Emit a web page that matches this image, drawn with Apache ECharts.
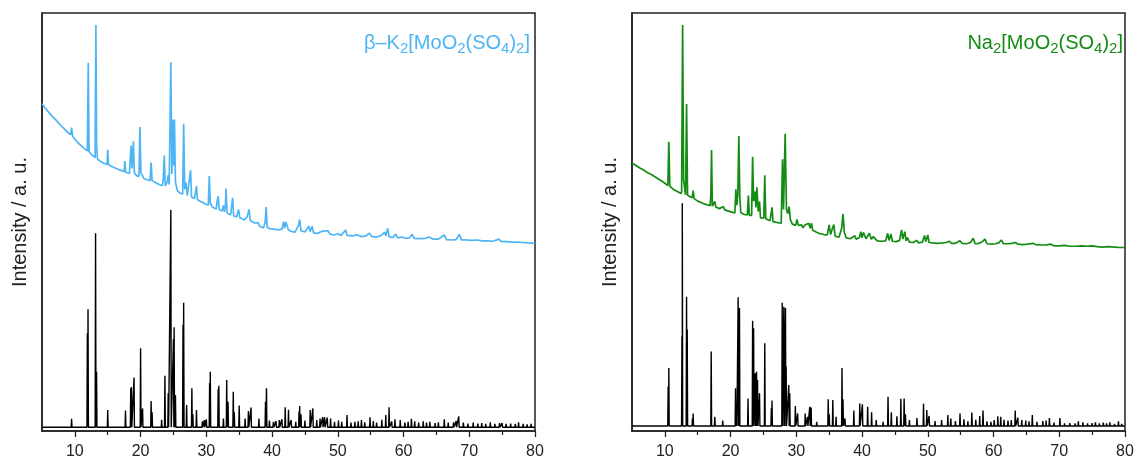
<!DOCTYPE html>
<html><head><meta charset="utf-8">
<script src="https://cdn.jsdelivr.net/npm/echarts@6/dist/echarts.min.js"></script>
<style>html,body{margin:0;padding:0;background:#fff}#c{width:1137px;height:463px}</style>
</head><body><div id="c"></div>
<script>
// ---- tick labels ----
const xMajorTicks = [10, 20, 30, 40, 50, 60, 70, 80];
const xMinorTicks = [15, 25, 35, 45, 55, 65, 75];
const yName = 'Intensity / a. u.';

// ---- beta-K2[MoO2(SO4)2] measured pattern [2theta, intensity] ----
const kExp = [[5.0,78.3],[5.5,77.2],[6.0,76.3],[6.5,75.4],[7.0,74.6],[7.5,73.7],[8.0,72.9],[8.5,72.1],[9.0,71.3],[9.35,70.9],[9.5,72.6],[9.65,70.6],[10.0,69.8],[10.5,68.9],[11.0,68.2],[11.5,67.5],[11.9,67.0],[12.04,88.1],[12.16,66.8],[12.5,66.2],[13.08,65.4],[13.2,97.1],[13.3,68.5],[13.45,65.0],[13.9,64.5],[14.5,64.0],[14.9,63.8],[15.0,67.3],[15.12,63.7],[15.7,63.2],[16.3,62.8],[16.9,62.4],[17.5,62.1],[17.6,64.6],[17.72,61.9],[18.3,61.6],[18.55,68.3],[18.7,62.8],[18.9,69.3],[19.05,61.8],[19.4,61.1],[19.75,60.9],[19.9,72.7],[20.05,61.8],[20.25,61.2],[20.5,60.4],[21.0,60.1],[21.45,59.9],[21.6,64.2],[21.75,59.9],[22.3,59.4],[22.9,58.9],[23.3,58.7],[23.45,60.3],[23.6,65.9],[23.75,58.6],[24.05,59.6],[24.2,61.2],[24.35,59.0],[24.6,88.2],[24.75,61.5],[24.95,74.5],[25.05,63.5],[25.15,74.5],[25.3,59.5],[25.6,57.5],[26.0,56.9],[26.4,56.7],[26.55,73.5],[26.7,57.8],[26.9,59.4],[27.1,56.3],[27.4,56.1],[27.6,62.4],[27.75,56.0],[28.2,55.6],[28.5,58.6],[28.65,55.3],[29.3,54.8],[29.9,54.3],[30.3,54.0],[30.45,61.0],[30.6,54.5],[30.9,53.6],[31.5,53.1],[31.65,55.0],[31.8,56.2],[31.95,53.0],[32.4,52.6],[32.6,54.0],[32.75,52.4],[32.9,53.8],[33.0,58.0],[33.15,52.2],[33.7,51.7],[34.0,55.8],[34.15,51.5],[34.6,51.2],[34.9,53.0],[35.1,51.0],[35.8,50.5],[36.2,51.2],[36.5,53.0],[36.7,50.3],[37.3,49.8],[37.9,49.8],[38.1,49.0],[38.7,48.6],[38.95,50.0],[39.1,53.6],[39.25,48.8],[39.6,48.4],[40.3,48.3],[40.9,48.1],[41.5,48.3],[41.75,50.1],[41.9,48.5],[42.1,50.0],[42.3,50.4],[42.5,48.1],[43.0,47.7],[43.5,47.6],[44.05,49.3],[44.2,50.6],[44.4,47.9],[45.0,47.6],[45.6,49.0],[45.8,47.7],[46.1,49.0],[46.3,47.4],[47.0,47.3],[47.5,47.7],[47.9,47.9],[48.2,47.6],[48.5,47.9],[48.8,47.1],[49.4,46.9],[50.0,47.2],[50.5,46.8],[51.2,48.1],[51.4,46.8],[52.2,46.7],[53.0,46.9],[53.6,46.5],[54.2,46.6],[54.8,47.3],[55.2,46.5],[56.0,46.4],[56.7,46.9],[57.1,47.6],[57.3,46.7],[57.6,48.5],[57.8,46.5],[58.4,46.3],[58.8,47.1],[59.1,46.2],[59.7,46.4],[60.3,46.1],[60.9,46.2],[61.3,47.1],[61.6,46.1],[62.5,46.0],[63.3,46.1],[63.9,46.4],[64.5,45.9],[65.3,45.9],[66.2,46.9],[66.5,45.8],[67.3,45.7],[68.0,45.8],[68.5,47.0],[68.8,45.7],[69.5,45.7],[70.4,45.6],[71.2,45.7],[72.0,45.5],[72.8,45.5],[73.6,45.4],[74.5,45.9],[74.9,45.3],[75.7,45.3],[76.5,45.2],[77.3,45.2],[78.1,45.1],[78.9,45.0],[80.0,44.9]];

// ---- beta-K2[MoO2(SO4)2] calculated reflections [2theta, top] ----
const kRef = [[9.5,2.9],[11.9,23.4],[12.0,29.1],[13.15,47.3],[13.3,14.2],[15.0,5.0],[17.7,4.9],[18.5,10.2],[18.6,10.5],[19.0,12.8],[20.0,19.8],[20.3,5.4],[21.6,7.2],[21.75,4.5],[23.2,2.7],[23.7,13.2],[24.2,9.0],[24.6,52.9],[25.0,22.0],[25.1,24.8],[25.3,8.6],[26.45,25.4],[26.55,30.7],[27.0,6.2],[27.8,10.2],[27.95,4.0],[28.5,5.0],[29.4,2.3],[29.7,2.6],[30.0,2.8],[30.5,11.5],[30.6,14.2],[31.8,10.0],[31.9,10.8],[32.6,3.0],[33.1,12.2],[33.3,7.0],[34.1,9.4],[34.25,4.5],[35.0,6.1],[35.9,3.0],[36.4,4.8],[36.8,5.6],[38.0,3.0],[39.0,7.0],[39.15,10.2],[39.6,2.5],[40.2,2.2],[40.6,2.4],[41.1,2.6],[41.5,2.8],[42.0,5.7],[42.5,5.1],[42.9,2.6],[43.6,2.2],[44.1,4.6],[44.2,6.0],[44.4,4.0],[45.0,2.5],[45.8,5.0],[46.2,5.4],[46.8,2.6],[47.3,3.0],[47.7,3.3],[48.0,3.3],[48.4,3.2],[48.9,3.0],[49.5,2.2],[50.1,2.5],[50.6,2.2],[51.4,3.8],[52.0,2.0],[52.6,2.2],[53.1,2.3],[53.6,2.6],[54.1,2.1],[54.9,3.3],[55.4,2.4],[55.9,2.0],[56.7,2.7],[57.3,3.8],[57.8,5.7],[58.2,2.3],[58.7,2.8],[59.5,2.6],[60.2,2.0],[60.7,2.2],[61.2,2.9],[61.7,2.3],[62.3,2.0],[63.0,2.3],[63.5,2.0],[64.0,2.2],[64.8,1.9],[65.3,2.1],[66.2,2.8],[66.8,2.0],[67.6,2.1],[68.0,2.4],[68.4,3.5],[69.1,2.0],[69.8,1.8],[70.6,2.0],[71.3,1.8],[71.9,1.9],[72.5,1.7],[73.2,2.1],[73.9,1.7],[74.6,1.9],[75.0,1.9],[75.6,1.7],[76.3,1.8],[77.0,1.7],[77.5,2.1],[78.2,1.7],[78.8,1.6],[79.4,1.7]];

// ---- Na2[MoO2(SO4)2] measured pattern ----
const naExp = [[5.0,64.1],[5.6,63.5],[6.2,62.9],[6.8,62.4],[7.4,61.8],[8.0,61.3],[8.6,60.7],[9.2,60.1],[9.8,59.5],[10.45,58.7],[10.6,69.2],[10.75,58.6],[11.3,57.8],[11.9,57.3],[12.45,56.8],[12.55,57.3],[12.7,97.1],[12.85,60.0],[13.15,56.5],[13.3,78.2],[13.45,56.4],[13.8,56.1],[14.15,55.8],[14.3,57.5],[14.45,55.6],[15.0,55.0],[15.6,54.6],[16.2,54.2],[16.9,53.9],[17.0,57.0],[17.1,67.2],[17.22,53.8],[17.6,54.9],[17.75,53.6],[18.3,53.2],[18.9,53.7],[19.1,52.9],[19.7,52.6],[20.3,52.3],[20.65,52.2],[20.8,57.8],[20.95,54.0],[21.1,56.5],[21.25,70.6],[21.4,56.1],[21.55,52.2],[22.1,51.8],[22.55,51.7],[22.7,56.3],[22.85,51.6],[23.2,51.6],[23.35,65.6],[23.5,55.0],[23.7,57.3],[23.85,53.5],[24.0,58.3],[24.2,52.5],[24.4,54.9],[24.55,51.0],[25.05,50.9],[25.2,61.2],[25.35,50.8],[26.0,50.3],[26.3,53.5],[26.45,50.1],[27.0,49.9],[27.7,49.7],[27.9,65.0],[28.05,53.0],[28.3,71.1],[28.5,53.0],[28.7,52.0],[28.9,53.7],[29.1,50.5],[29.4,49.5],[29.9,49.2],[30.1,50.6],[30.3,49.2],[30.8,49.3],[31.0,48.6],[31.3,49.3],[31.6,49.0],[31.9,49.7],[32.1,48.5],[32.3,49.7],[32.5,48.0],[33.0,47.6],[33.6,47.2],[34.2,47.0],[34.7,46.9],[35.0,49.3],[35.2,47.0],[35.5,48.5],[35.7,49.4],[35.9,46.6],[36.5,46.4],[36.9,48.5],[37.1,51.9],[37.3,47.5],[37.6,46.2],[38.2,46.0],[38.9,46.7],[39.1,45.9],[39.6,46.3],[39.8,47.7],[40.0,46.2],[40.2,47.5],[40.4,47.6],[40.6,46.0],[41.1,47.3],[41.4,45.9],[41.7,46.5],[42.0,46.2],[42.3,45.5],[43.0,45.4],[43.6,45.5],[43.9,47.3],[44.1,45.6],[44.4,47.1],[44.6,45.4],[45.2,45.3],[45.7,45.6],[46.0,48.1],[46.2,45.9],[46.5,47.7],[46.7,45.5],[46.9,46.3],[47.2,45.2],[47.8,45.1],[48.3,45.6],[48.6,45.0],[49.2,45.2],[49.5,46.8],[49.7,45.3],[50.0,46.9],[50.2,45.1],[50.8,45.0],[51.5,44.9],[52.2,45.0],[52.8,45.1],[53.3,45.4],[53.6,44.9],[54.2,44.9],[54.9,45.5],[55.2,44.9],[55.9,44.8],[56.5,45.1],[56.9,46.1],[57.2,44.8],[57.8,44.9],[58.3,45.3],[58.7,45.9],[59.0,44.8],[59.7,44.7],[60.3,44.8],[60.8,45.0],[61.2,45.7],[61.5,44.8],[62.2,44.8],[62.8,44.9],[63.3,45.1],[63.7,44.7],[64.4,44.6],[65.2,44.7],[66.0,44.9],[66.4,44.6],[67.2,44.5],[68.0,44.5],[68.6,44.7],[69.2,44.3],[70.0,44.3],[70.8,44.4],[71.6,44.2],[72.5,44.2],[73.4,44.3],[74.2,44.2],[75.0,44.3],[75.8,44.1],[76.6,44.0],[77.5,44.1],[78.4,44.0],[79.2,43.9],[80.0,43.9]];

// ---- Na2[MoO2(SO4)2] calculated reflections ----
const naRef = [[10.5,10.6],[10.6,15.1],[12.6,22.6],[12.65,54.5],[13.3,32.1],[13.4,24.3],[14.2,3.0],[14.3,4.2],[17.05,19.0],[17.6,3.4],[18.8,2.5],[20.75,10.2],[20.9,6.0],[21.15,32.0],[21.35,29.4],[22.65,7.8],[23.35,26.4],[23.5,24.6],[23.75,13.8],[23.95,14.2],[24.1,12.2],[24.4,9.0],[25.2,21.0],[26.2,5.5],[26.3,7.3],[27.85,30.7],[28.1,29.7],[28.35,29.4],[28.45,15.4],[28.85,11.0],[29.0,9.0],[29.85,6.0],[30.2,4.2],[31.35,4.2],[31.7,3.4],[32.05,5.8],[32.25,5.6],[33.1,2.2],[34.85,7.6],[35.0,4.0],[35.55,7.4],[36.05,3.4],[36.95,15.1],[37.1,7.6],[37.4,3.0],[38.75,4.9],[39.65,6.6],[40.05,6.4],[40.85,5.8],[41.45,4.5],[42.15,2.6],[43.2,2.2],[43.95,8.2],[44.45,4.5],[45.3,3.5],[45.9,7.7],[46.4,7.8],[46.6,4.0],[47.2,2.6],[48.35,3.1],[49.35,6.5],[49.85,5.0],[50.2,3.6],[51.1,2.4],[52.1,2.6],[53.05,3.8],[53.5,3.0],[54.2,2.4],[54.9,4.2],[55.5,2.8],[56.1,2.3],[56.7,4.4],[57.3,2.7],[57.9,3.6],[58.4,4.9],[59.0,2.3],[59.6,2.2],[60.1,2.6],[60.65,3.5],[61.1,3.4],[61.6,2.7],[62.2,2.5],[62.7,2.6],[63.3,4.9],[63.7,3.2],[64.3,2.6],[64.9,2.5],[65.4,2.3],[65.9,3.8],[66.6,2.2],[67.5,2.4],[68.0,2.5],[68.5,3.1],[69.2,2.0],[70.1,3.1],[70.8,1.8],[71.6,1.9],[72.4,1.8],[72.9,2.3],[73.6,2.1],[74.3,1.8],[75.0,1.9],[75.5,2.1],[76.1,1.8],[76.7,2.0],[77.2,1.8],[77.7,2.1],[78.4,1.7],[79.0,2.3],[79.5,1.7]];

const kColor = '#4db5f5';
const naColor = '#148c14';
const refBase = 0.9;

function sticks(list, base) {
  const out = [[5, base]];
  list.forEach(function (d) {
    out.push([d[0] - 0.06, base], [d[0], d[1]], [d[0] + 0.06, base]);
  });
  out.push([80, base]);
  return out;
}

const frame = '#222';
const font = '"Liberation Sans", Arial, sans-serif';

function xAxes(gi) {
  return [{
    type: 'value', gridIndex: gi, min: 5, max: 80, position: 'bottom',
    axisLine: { onZero: false, lineStyle: { color: frame, width: 1.5 } },
    axisTick: { customValues: xMajorTicks, length: 6, lineStyle: { color: frame, width: 1.3 } },
    axisLabel: { customValues: xMajorTicks, margin: 13, fontSize: 16, color: '#222', fontFamily: font },
    splitLine: { show: false }
  }, {
    type: 'value', gridIndex: gi, min: 5, max: 80, position: 'bottom',
    axisLine: { show: false },
    axisTick: { customValues: xMinorTicks, length: 4, lineStyle: { color: frame, width: 1.2 } },
    axisLabel: { show: false },
    splitLine: { show: false }
  }];
}
function yAxis(gi) {
  return {
    type: 'value', gridIndex: gi, min: 0, max: 100,
    name: yName, nameLocation: 'middle', nameGap: 12,
    nameTextStyle: { fontSize: 20, color: '#222', fontFamily: font },
    axisLine: { show: true, lineStyle: { color: frame, width: 1.5 } },
    axisTick: { show: false }, axisLabel: { show: false }, splitLine: { show: false }
  };
}
function richFor(color) {
  return {
    n: { fontSize: 20, fontWeight: 'normal', color: color, fontFamily: font, lineHeight: 26, verticalAlign: 'middle' },
    s: { fontSize: 15, fontWeight: 'normal', color: color, fontFamily: font, lineHeight: 16, verticalAlign: 'bottom' }
  };
}

const option = {
  animation: false,
  backgroundColor: '#fff',
  title: [
    { text: '{n|β–K}{s|2}{n|[MoO}{s|2}{n|(SO}{s|4}{n|)}{s|2}{n|]}', right: 607, top: 30, padding: 0,
      textStyle: { fontWeight: 'normal', rich: richFor(kColor) } },
    { text: '{n|Na}{s|2}{n|[MoO}{s|2}{n|(SO}{s|4}{n|)}{s|2}{n|]}', right: 14, top: 30, padding: 0,
      textStyle: { fontWeight: 'normal', rich: richFor(naColor) } }
  ],
  grid: [
    { left: 42, right: 602, top: 13, bottom: 32, show: true, borderColor: frame, borderWidth: 1.5, containLabel: false },
    { left: 632, right: 12, top: 13, bottom: 32, show: true, borderColor: frame, borderWidth: 1.5, containLabel: false }
  ],
  xAxis: xAxes(0).concat(xAxes(1)),
  yAxis: [yAxis(0), yAxis(1)],
  series: [
    { type: 'line', xAxisIndex: 0, yAxisIndex: 0, data: sticks(kRef, refBase), showSymbol: false, symbol: 'none',
      lineStyle: { color: '#000', width: 1.4 }, silent: true },
    { type: 'line', xAxisIndex: 0, yAxisIndex: 0, data: kExp, showSymbol: false, symbol: 'none',
      lineStyle: { color: kColor, width: 1.7 }, silent: true },
    { type: 'line', xAxisIndex: 2, yAxisIndex: 1, data: sticks(naRef, refBase + 0.3), showSymbol: false, symbol: 'none',
      lineStyle: { color: '#000', width: 1.4 }, silent: true },
    { type: 'line', xAxisIndex: 2, yAxisIndex: 1, data: naExp, showSymbol: false, symbol: 'none',
      lineStyle: { color: naColor, width: 1.7 }, silent: true }
  ]
};
const chart = echarts.init(document.getElementById('c'), null, { renderer: 'canvas' });
chart.setOption(option);
</script>
</body></html>
